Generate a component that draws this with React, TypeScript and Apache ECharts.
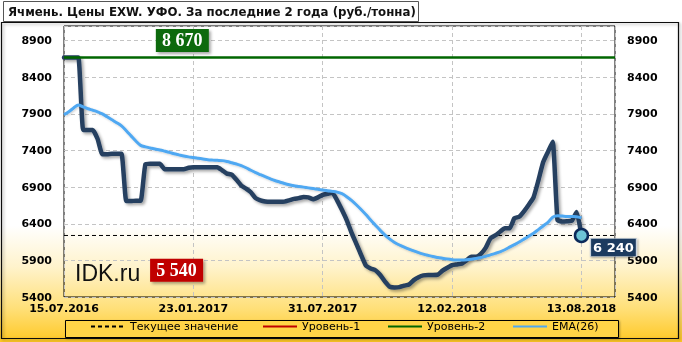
import React, { useEffect, useRef } from "react";
import * as echarts from "echarts";

const dateLabels = ["15.07.2016", "23.01.2017", "31.07.2017", "12.02.2018", "13.08.2018"];
const labelStep = 27;
const xMax = 115;

const priceValues = [
  8670, 8670, 8670, 8670, 7680, 7680, 7680, 7560, 7350, 7350,
  7355, 7355, 7355, 6710, 6710, 6715, 6715, 7215, 7220, 7220,
  7220, 7145, 7145, 7145, 7145, 7145, 7165, 7170, 7170, 7170,
  7170, 7170, 7170, 7130, 7085, 7070, 7000, 6920, 6880, 6830,
  6750, 6720, 6705, 6700, 6700, 6700, 6702, 6720, 6740, 6750,
  6765, 6760, 6735, 6760, 6795, 6810, 6825, 6720, 6590, 6450,
  6280, 6130, 5975, 5830, 5790, 5765, 5700, 5610, 5540, 5530,
  5535, 5555, 5570, 5630, 5670, 5695, 5700, 5700, 5705, 5760,
  5800, 5835, 5845, 5855, 5900, 5950, 5950, 5990, 6070, 6200,
  6240, 6290, 6338, 6338, 6475, 6495, 6570, 6660, 6760, 6990,
  7240, 7380, 7520, 6452, 6430, 6435, 6443, 6560, 6240,
];

const emaValues = [
  7890, 7930, 7980, 8023, 7995, 7970, 7950, 7928, 7900, 7860,
  7820, 7780, 7736, 7670, 7600, 7530, 7470, 7450, 7435, 7420,
  7408, 7392, 7375, 7355, 7340, 7325, 7313, 7305, 7295, 7285,
  7275, 7270, 7266, 7262, 7250, 7233, 7215, 7195, 7165, 7130,
  7098, 7070, 7042, 7015, 6990, 6970, 6950, 6933, 6920, 6910,
  6900, 6890, 6880, 6870, 6860, 6850, 6842, 6832, 6810, 6770,
  6720, 6660, 6595, 6525, 6450, 6380, 6310, 6245, 6190, 6145,
  6110, 6082, 6055, 6030, 6005, 5985, 5968, 5952, 5940, 5928,
  5918, 5910, 5906, 5905, 5908, 5915, 5925, 5940, 5955, 5975,
  5995, 6017, 6045, 6080, 6115, 6150, 6190, 6230, 6270, 6320,
  6370, 6420, 6490, 6510, 6505, 6500, 6498, 6497, 6480,
];

const level1 = 5540;
const level2 = 8670;
const yMin = 5400;
const yMax = 9100;
const yStep = 500;

const seriesNames = ["Текущее значение", "Уровень-1", "Уровень-2", "EMA(26)"];
const titleText = "Ячмень. Цены EXW. УФО. За последние 2 года (руб./тонна)";
const brandText = "IDK.ru";

const fmt = (v: number) => String(v).replace(/\B(?=(\d{3})+(?!\d))/g, " ");

export default function App() {
  const ref = useRef<HTMLDivElement>(null);
  useEffect(() => {
    if (!ref.current) return;
    const chart = echarts.init(ref.current, undefined, { renderer: "svg" });
    const lastIdx = priceValues.length - 1;
    const current = priceValues[lastIdx];
    const priceData = priceValues.map((v, i) => [i, v]);
    const emaData = emaValues.map((v, i) => [i, v]);
    const axisFont = { fontFamily: "DejaVu Sans", fontWeight: "bold" as const, fontSize: 11, color: "#000" };
    const yLabel = (v: number) => ((v - yMin) % yStep === 0 ? String(v) : "");
    const legendCommon = {
      top: 321,
      padding: 0,
      itemWidth: 34,
      itemHeight: 14,
      itemGap: 5,
      itemStyle: { opacity: 0 },
      textStyle: { fontFamily: "DejaVu Sans", fontSize: 11, color: "#000" },
    };
    chart.setOption({
      animation: false,
      graphic: [
        {
          type: "rect",
          z: -100,
          shape: { x: 0, y: 0, width: 682, height: 342 },
          style: {
            fill: new echarts.graphic.LinearGradient(0, 0, 0, 1, [
              { offset: 0, color: "#ffffff" },
              { offset: 0.66, color: "#ffffff" },
              { offset: 0.78, color: "#fff3cc" },
              { offset: 0.9, color: "#ffe07a" },
              { offset: 1, color: "#ffc824" },
            ]),
          },
        },
        {
          type: "rect",
          z: -90,
          shape: { x: 1.5, y: 22.5, width: 677, height: 316 },
          style: { fill: "transparent", stroke: "#111", lineWidth: 1.2, shadowColor: "rgba(0,0,0,0.35)", shadowBlur: 3, shadowOffsetX: 1.5, shadowOffsetY: 1.5 },
        },
        {
          type: "rect",
          z: -80,
          shape: { x: 3.5, y: 1.5, width: 415, height: 20 },
          style: { fill: "#ffffff", stroke: "#555", lineWidth: 1 },
        },
        {
          type: "text",
          z: 10,
          x: 8,
          y: 12,
          style: { text: titleText, fontFamily: "DejaVu Sans", fontWeight: "bold", fontSize: 11.8, fill: "#111", verticalAlign: "middle" },
        },
        {
          type: "rect",
          z: -50,
          shape: { x: 65.5, y: 320.5, width: 553, height: 17 },
          style: { fill: "#ffd447", stroke: "#000", lineWidth: 1, shadowColor: "rgba(0,0,0,0.3)", shadowBlur: 2, shadowOffsetX: 1, shadowOffsetY: 1 },
        },
        {
          type: "text",
          z: 10,
          x: 75,
          y: 273,
          style: { text: brandText, fontFamily: "Liberation Sans", fontSize: 23, fill: "#111", verticalAlign: "middle" },
        },
      ],
      legend: [
        { ...legendCommon, left: 90, data: [seriesNames[0]] },
        { ...legendCommon, left: 262, data: [seriesNames[1]] },
        { ...legendCommon, left: 387, data: [seriesNames[2]] },
        { ...legendCommon, left: 512, data: [seriesNames[3]] },
      ],
      grid: { left: 64, right: 67, top: 26, bottom: 45, show: true, borderColor: "#000", borderWidth: 1, backgroundColor: "transparent" },
      xAxis: {
        type: "value",
        min: 0,
        max: xMax,
        interval: labelStep,
        axisLine: { show: false },
        axisTick: { show: false },
        splitLine: { show: true, lineStyle: { type: [4, 3], color: "#c4c4c4", width: 1 } },
        axisLabel: {
          ...axisFont,
          margin: 6,
          showMaxLabel: false,
          formatter: (v: number) => (v % labelStep === 0 ? dateLabels[v / labelStep] ?? "" : ""),
        },
      },
      yAxis: [
        {
          type: "value",
          min: yMin,
          max: yMax,
          interval: yStep,
          position: "left",
          axisLine: { show: false },
          axisTick: { show: false },
          splitLine: { show: true, lineStyle: { type: [4, 3], color: "#c4c4c4", width: 1 } },
          axisLabel: { ...axisFont, margin: 12, formatter: yLabel },
        },
        {
          type: "value",
          min: yMin,
          max: yMax,
          interval: yStep,
          position: "right",
          axisLine: { show: false },
          axisTick: { show: false },
          splitLine: { show: false },
          axisLabel: { ...axisFont, margin: 12, formatter: yLabel },
        },
      ],
      series: [
        {
          name: "Цена",
          type: "line",
          data: priceData,
          symbol: "none",
          smooth: 0.15,
          z: 3,
          itemStyle: { color: "#253f60" },
          lineStyle: { color: "#253f60", width: 4.5, join: "round", cap: "round", shadowColor: "rgba(0,0,0,0.35)", shadowBlur: 3, shadowOffsetX: 2, shadowOffsetY: 2 },
          markPoint: {
            z: 20,
            data: [
              {
                coord: [lastIdx, current],
                symbol: "circle",
                symbolSize: 13,
                itemStyle: { color: "#6cc4d6", borderColor: "#0c2a5a", borderWidth: 2.5 },
                label: { show: false },
              },
              {
                coord: [lastIdx, current],
                symbol: "rect",
                symbolSize: [46, 18],
                symbolOffset: [32, 12],
                itemStyle: { color: "#1b3a5e", borderColor: "#c8d2dc", borderWidth: 0.8, shadowColor: "rgba(0,0,0,0.35)", shadowBlur: 2, shadowOffsetX: 1, shadowOffsetY: 1 },
                label: { show: true, position: "inside", formatter: fmt(current), color: "#fff", fontFamily: "DejaVu Sans", fontWeight: "bold", fontSize: 13 },
              },
            ],
          },
        },
        {
          name: seriesNames[0],
          type: "line",
          data: [[0, current], [xMax, current]],
          symbol: "none",
          z: 2,
          itemStyle: { color: "#000" },
          lineStyle: { color: "#000", width: 1, type: [4, 3] },
        },
        {
          name: seriesNames[1],
          type: "line",
          data: [[0, level1], [xMax, level1]],
          symbol: "none",
          z: 4,
          itemStyle: { color: "#c00000" },
          lineStyle: { color: "#c00000", width: 2.5, shadowColor: "rgba(0,0,0,0.3)", shadowBlur: 2, shadowOffsetY: 2 },
          markPoint: {
            data: [
              {
                coord: [23.5, level1],
                symbol: "rect",
                symbolSize: [53, 23],
                symbolOffset: [0, -16.5],
                itemStyle: { color: "#c00000", shadowColor: "rgba(0,0,0,0.35)", shadowBlur: 3, shadowOffsetX: 2, shadowOffsetY: 2 },
                label: { show: true, position: "inside", formatter: fmt(level1), color: "#fff", fontFamily: "Liberation Serif", fontWeight: "bold", fontSize: 18 },
              },
            ],
          },
        },
        {
          name: seriesNames[2],
          type: "line",
          data: [[0, level2], [xMax, level2]],
          symbol: "none",
          z: 4,
          itemStyle: { color: "#006600" },
          lineStyle: { color: "#006600", width: 2.5 },
          markPoint: {
            data: [
              {
                coord: [24.7, level2],
                symbol: "rect",
                symbolSize: [53, 23],
                symbolOffset: [0, -17],
                itemStyle: { color: "#0b6b0b", shadowColor: "rgba(0,0,0,0.35)", shadowBlur: 3, shadowOffsetX: 2, shadowOffsetY: 2 },
                label: { show: true, position: "inside", formatter: fmt(level2), color: "#fff", fontFamily: "Liberation Serif", fontWeight: "bold", fontSize: 18 },
              },
            ],
          },
        },
        {
          name: seriesNames[3],
          type: "line",
          data: emaData,
          symbol: "none",
          smooth: 0.3,
          z: 5,
          itemStyle: { color: "#4fa8f2" },
          lineStyle: { color: "#4fa8f2", width: 3, shadowColor: "rgba(0,0,0,0.2)", shadowBlur: 2, shadowOffsetX: 1, shadowOffsetY: 1 },
        },
      ],
    });
    return () => chart.dispose();
  }, []);
  return <div ref={ref} style={{ position: "fixed", left: 0, top: 0, width: 682, height: 342 }} />;
}
